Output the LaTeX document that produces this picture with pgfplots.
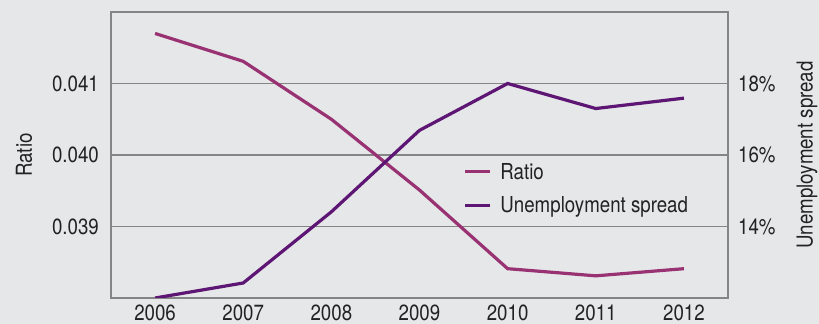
\documentclass[border=0pt]{standalone}
\usepackage{fontspec}
\setmainfont[FakeStretch=0.85]{TeX Gyre Heros}
\usepackage{pgfplots}
\pgfplotsset{compat=1.18}
\definecolor{bg}{HTML}{E6E7E9}
\definecolor{gridc}{HTML}{858585}
\definecolor{ratioc}{HTML}{983272}
\definecolor{unempc}{HTML}{5E1674}
\definecolor{txt}{HTML}{222222}
\begin{document}
\begin{tikzpicture}[font=\fontsize{22bp}{26bp}\selectfont]
\fill[bg] (-111bp,-26bp) rectangle (708bp,298bp);
\pgfplotsset{
  common/.style={
    scale only axis, width=617bp, height=286bp,
    at={(0,0)}, anchor=south west,
    xmin=2005.5, xmax=2012.5,
    major tick length=0pt,
    scaled y ticks=false, scaled x ticks=false,
    /pgf/number format/assume math mode=true,
    tick label style={text=txt, inner sep=0pt},
    label style={text=txt},
    axis line style={draw=gridc, line width=1.5bp},
  }
}
\begin{axis}[common,
  ymin=0.038, ymax=0.042,
  ytick={0.039,0.040,0.041}, yticklabels={0.039,0.040,0.041},
  xtick={2006,2007,2008,2009,2010,2011,2012},
  xticklabels={2006,2007,2008,2009,2010,2011,2012},
  xticklabel style={anchor=north, yshift=-7bp},
  yticklabel style={anchor=east, xshift=-12bp},
  ymajorgrids, grid style={gridc, line width=1.5bp},
  ylabel={Ratio},
  ylabel style={at={(axis description cs:-0.141,0.5)}, anchor=center, rotate=0},
]
\addplot[ratioc, line width=3.2bp] coordinates {
  (2006,0.04170) (2007,0.04131) (2008,0.04050) (2009,0.03951)
  (2010,0.03841) (2011,0.03831) (2012,0.03841)
};
\end{axis}
\begin{axis}[common,
  axis y line*=right, axis x line=none,
  ymin=12, ymax=20,
  ytick={14,16,18}, yticklabels={14\%,16\%,18\%},
  yticklabel style={anchor=west, xshift=10bp},
  ylabel={Unemployment spread},
  ylabel style={at={(axis description cs:1.128,0.5)}, anchor=center, rotate=0},
  legend style={at={(axis description cs:0.571,0.4795)}, anchor=north west,
    draw=none, fill=none, inner sep=0pt, row sep=12bp, column sep=7bp,
    cells={anchor=west}, text=txt},
  legend image code/.code={\draw[#1, line width=3bp] (0bp,0bp) -- (25bp,0bp);},
]
\addlegendimage{ratioc}
\addlegendentry{Ratio}
\addplot[unempc, line width=3.2bp] coordinates {
  (2006,12.0) (2007,12.42) (2008,14.41) (2009,16.69)
  (2010,18.0) (2011,17.3) (2012,17.59)
};
\addlegendentry{Unemployment spread}
\end{axis}
\pgfresetboundingbox
\path (-111bp,-26bp) rectangle (708bp,298bp);
\end{tikzpicture}
\end{document}
